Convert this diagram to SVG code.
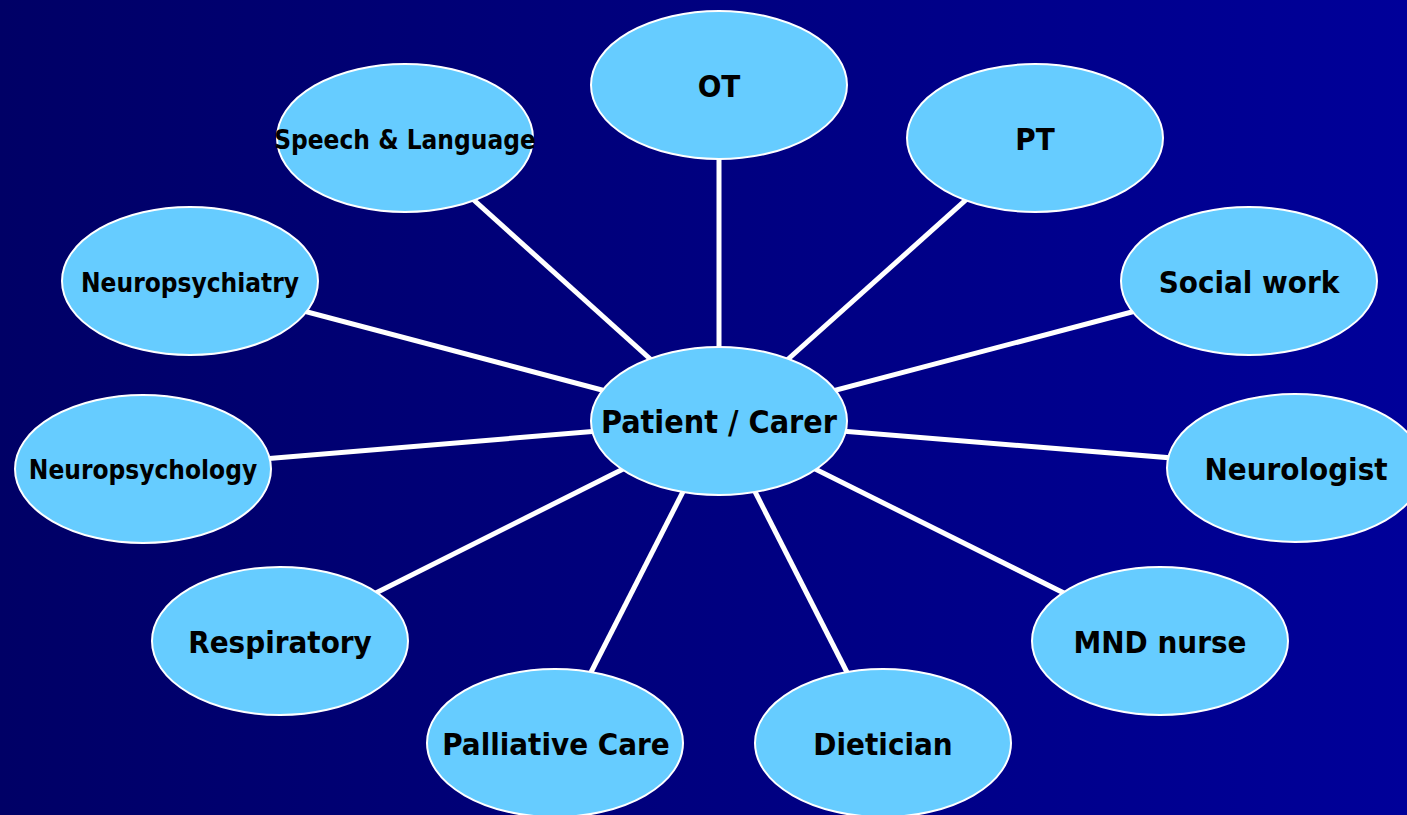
<svg xmlns="http://www.w3.org/2000/svg" width="1407" height="815" viewBox="0 0 1407 815">
<defs>
<linearGradient id="bg" x1="0" y1="0" x2="1" y2="0">
<stop offset="0" stop-color="#000066"/>
<stop offset="1" stop-color="#000099"/>
</linearGradient>
</defs>
<style>
.n ellipse{fill:#66CCFF;stroke:#FFFFFF;stroke-width:2}
.n text{font-family:"DejaVu Sans Condensed","DejaVu Sans",sans-serif;font-weight:bold;fill:#000000;text-anchor:middle;font-size:31px}
.n text.s{font-size:26px}
#connectors line{stroke:#FFFFFF;stroke-width:5}
</style>
<rect x="0" y="0" width="1407" height="815" fill="url(#bg)"/>
<g id="connectors">
<line x1="719" y1="421" x2="719" y2="85"/>
<line x1="719" y1="421" x2="1035" y2="138"/>
<line x1="719" y1="421" x2="405" y2="138"/>
<line x1="719" y1="421" x2="1249" y2="281"/>
<line x1="719" y1="421" x2="190" y2="281"/>
<line x1="719" y1="421" x2="1295" y2="468"/>
<line x1="719" y1="421" x2="143" y2="469"/>
<line x1="719" y1="421" x2="1160" y2="641"/>
<line x1="719" y1="421" x2="280" y2="641"/>
<line x1="719" y1="421" x2="555" y2="743"/>
<line x1="719" y1="421" x2="883" y2="743"/>
</g>
<g id="node-ot" class="n"><ellipse cx="719" cy="85" rx="128" ry="74"/><text x="719" y="97">OT</text></g>
<g id="node-pt" class="n"><ellipse cx="1035" cy="138" rx="128" ry="74"/><text x="1035" y="150">PT</text></g>
<g id="node-speech" class="n"><ellipse cx="405" cy="138" rx="128" ry="74"/><text class="s" x="405" y="149">Speech &amp; Language</text></g>
<g id="node-social" class="n"><ellipse cx="1249" cy="281" rx="128" ry="74"/><text x="1249" y="293">Social work</text></g>
<g id="node-neuropsychiatry" class="n"><ellipse cx="190" cy="281" rx="128" ry="74"/><text class="s" x="190" y="292">Neuropsychiatry</text></g>
<g id="node-neurologist" class="n"><ellipse cx="1295" cy="468" rx="128" ry="74"/><text x="1296" y="480">Neurologist</text></g>
<g id="node-neuropsychology" class="n"><ellipse cx="143" cy="469" rx="128" ry="74"/><text class="s" x="143" y="479">Neuropsychology</text></g>
<g id="node-patient" class="n"><ellipse cx="719" cy="421" rx="128" ry="74"/><text x="719" y="433" style="font-size:32px">Patient / Carer</text></g>
<g id="node-mnd" class="n"><ellipse cx="1160" cy="641" rx="128" ry="74"/><text x="1160" y="653">MND nurse</text></g>
<g id="node-respiratory" class="n"><ellipse cx="280" cy="641" rx="128" ry="74"/><text x="280" y="653">Respiratory</text></g>
<g id="node-palliative" class="n"><ellipse cx="555" cy="743" rx="128" ry="74"/><text x="556" y="755">Palliative Care</text></g>
<g id="node-dietician" class="n"><ellipse cx="883" cy="743" rx="128" ry="74"/><text x="883" y="755">Dietician</text></g>
</svg>
